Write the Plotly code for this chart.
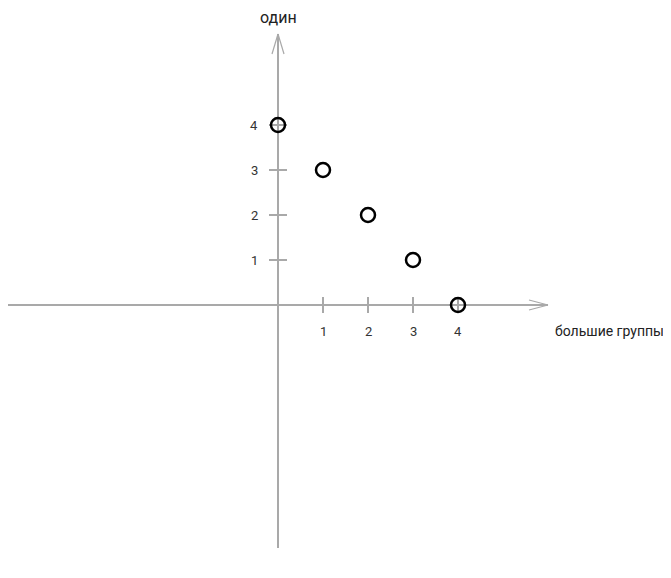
import plotly.graph_objects as go

# Data
x_values = [0, 1, 2, 3, 4]
y_values = [4, 3, 2, 1, 0]
x_ticks = [1, 2, 3, 4]
y_ticks = [1, 2, 3, 4]
x_title = "большие группы"
y_title = "один"

AXIS_COLOR = "#a9a9a9"
FONT = "Roboto, Open Sans, Noto Sans, DejaVu Sans, sans-serif"

# page has an 8px body margin; work in figure pixels (page px - 8)
PAD = 8
W, H = 671 - PAD, 578 - 2 * PAD
OX, OY, U = 278 - PAD, 305 - PAD, 45
x_range = [-OX / U, (W - OX) / U]
y_range = [-(H - OY) / U, OY / U]

X_MIN, X_MAX = (4 - 278) / U, (548 - 278) / U
Y_MIN, Y_MAX = -(548 - 305) / U, (305 - 34) / U

fig = go.Figure()

shapes = []
line = dict(color=AXIS_COLOR, width=2)
shapes.append(dict(type="line", x0=X_MIN, y0=0, x1=X_MAX, y1=0, line=line, layer="below"))
shapes.append(dict(type="line", x0=0, y0=Y_MIN, x1=0, y1=Y_MAX, line=line, layer="below"))
ah = dict(color=AXIS_COLOR, width=1.2)
shapes.append(dict(type="line", x0=X_MAX, y0=0, x1=X_MAX - 19 / U, y1=5 / U, line=ah, layer="below"))
shapes.append(dict(type="line", x0=X_MAX, y0=0, x1=X_MAX - 19 / U, y1=-5 / U, line=ah, layer="below"))
shapes.append(dict(type="line", x0=0, y0=Y_MAX, x1=-6 / U, y1=Y_MAX - 20 / U, line=ah, layer="below"))
shapes.append(dict(type="line", x0=0, y0=Y_MAX, x1=6 / U, y1=Y_MAX - 20 / U, line=ah, layer="below"))
for t in x_ticks:
    shapes.append(dict(type="line", x0=t, y0=-8 / U, x1=t, y1=8 / U, line=line, layer="below"))
for t in y_ticks:
    shapes.append(dict(type="line", x0=-9 / U, y0=t, x1=9 / U, y1=t, line=line, layer="below"))

annotations = []
for t in x_ticks:
    annotations.append(dict(x=t, y=-26 / U, text=str(t), showarrow=False,
                            font=dict(family=FONT, size=13, color="#333333"),
                            xanchor="center", yanchor="middle"))
for t in y_ticks:
    annotations.append(dict(x=-24 / U, y=t, text=str(t), showarrow=False,
                            font=dict(family=FONT, size=13, color="#333333"),
                            xanchor="center", yanchor="middle"))
annotations.append(dict(x=(554 - 278) / U, y=-26 / U, text=x_title, showarrow=False,
                        font=dict(family=FONT, size=14, color="#222222"),
                        xanchor="left", yanchor="middle", borderpad=0))
annotations.append(dict(x=0, y=(305 - 17) / U, text=y_title, showarrow=False,
                        font=dict(family=FONT, size=16, color="#222222"),
                        xanchor="center", yanchor="middle"))

fig.add_trace(go.Scatter(
    x=x_values, y=y_values, mode="markers",
    marker=dict(symbol="circle-open", size=14, color="black", line=dict(width=2.5, color="black")),
    hoverinfo="x+y", showlegend=False,
))

fig.update_layout(
    width=W, height=H,
    margin=dict(l=0, r=0, t=0, b=0),
    paper_bgcolor="white", plot_bgcolor="white",
    xaxis=dict(range=x_range, visible=False, fixedrange=True),
    yaxis=dict(range=y_range, visible=False, fixedrange=True),
    shapes=shapes, annotations=annotations,
)

fig.write_html("out.html")
